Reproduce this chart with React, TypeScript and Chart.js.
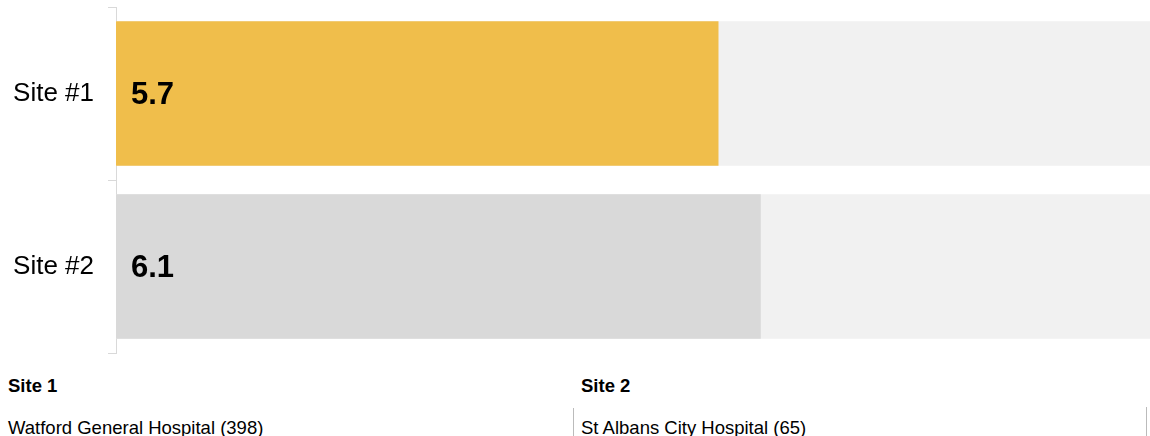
import React, { useEffect, useRef } from "react";
import { Chart, registerables } from "chart.js";

Chart.register(...registerables);

const categories = ["Site #1", "Site #2"];
const values = [5.7, 6.1];
const scaleMax = 10;
const backgroundValues = [scaleMax, scaleMax];
const barColors = ["#f0be4b", "#d9d9d9"];
const siteHeaders = ["Site 1", "Site 2"];
const siteNames = ["Watford General Hospital (398)", "St Albans City Hospital (65)"];

const FONT = "'Liberation Sans', Arial, sans-serif";

const valueLabelPlugin = {
  id: "valueLabels",
  afterDatasetsDraw(chart: any) {
    const meta = chart.getDatasetMeta(0);
    const ctx = chart.ctx;
    ctx.save();
    ctx.font = `bold 31px ${FONT}`;
    ctx.fillStyle = "#000";
    ctx.textAlign = "left";
    ctx.textBaseline = "middle";
    meta.data.forEach((bar: any, i: number) => {
      const v = chart.data.datasets[0].data[i];
      ctx.fillText(String(v), bar.base + 15, bar.y + 2);
    });
    ctx.restore();
  },
};

export default function App() {
  const ref = useRef<HTMLCanvasElement | null>(null);

  useEffect(() => {
    if (!ref.current) return;
    const chart = new Chart(ref.current, {
      type: "bar",
      data: {
        labels: categories,
        datasets: [
          {
            data: values,
            backgroundColor: barColors,
            grouped: false,
            barPercentage: 0.835,
            categoryPercentage: 1,
          } as any,
          {
            data: backgroundValues,
            backgroundColor: "#f1f1f1",
            grouped: false,
            barPercentage: 0.835,
            categoryPercentage: 1,
          } as any,
        ],
      },
      plugins: [valueLabelPlugin],
      options: {
        indexAxis: "y",
        responsive: false,
        animation: false,
        layout: { padding: { top: 7, left: 0, right: 0, bottom: 3 } },
        plugins: {
          legend: { display: false },
          tooltip: { enabled: false },
        },
        scales: {
          x: { type: "linear", min: 0, max: scaleMax, display: false },
          y: {
            type: "category",
            grid: {
              offset: true,
              drawOnChartArea: false,
              drawTicks: true,
              tickLength: 8,
              color: "#d9d9d9",
            },
            border: { color: "#d9d9d9" },
            ticks: {
              padding: 14,
              color: "#000",
              font: { family: FONT, size: 26 },
            },
            afterFit: (s: any) => {
              s.width = 116;
              s.paddingTop = 0;
              s.paddingBottom = 0;
              s.paddingLeft = 0;
              s.paddingRight = 0;
            },
          },
        },
      } as any,
    });
    return () => chart.destroy();
  }, []);

  const textBase: React.CSSProperties = {
    position: "absolute",
    fontFamily: FONT,
    fontSize: "18.5px",
    color: "#000",
    whiteSpace: "nowrap",
  };

  return (
    <div
      style={{
        position: "absolute",
        left: 0,
        top: 0,
        width: 1150,
        height: 436,
        overflow: "hidden",
        background: "#fff",
      }}
    >
      <canvas
        ref={ref}
        width={1173}
        height={356}
        style={{ position: "absolute", left: 0, top: 0, display: "block" }}
      />
      <div style={{ ...textBase, left: 8, top: 375, fontWeight: "bold" }}>{siteHeaders[0]}</div>
      <div style={{ ...textBase, left: 8, top: 416.5 }}>{siteNames[0]}</div>
      <div style={{ ...textBase, left: 581, top: 375, fontWeight: "bold" }}>{siteHeaders[1]}</div>
      <div style={{ ...textBase, left: 581, top: 416.5 }}>{siteNames[1]}</div>
      <div style={{ position: "absolute", left: 573, top: 408, width: 1, height: 40, background: "#bbb" }} />
      <div style={{ position: "absolute", left: 1146, top: 407, width: 1, height: 40, background: "#bbb" }} />
    </div>
  );
}
